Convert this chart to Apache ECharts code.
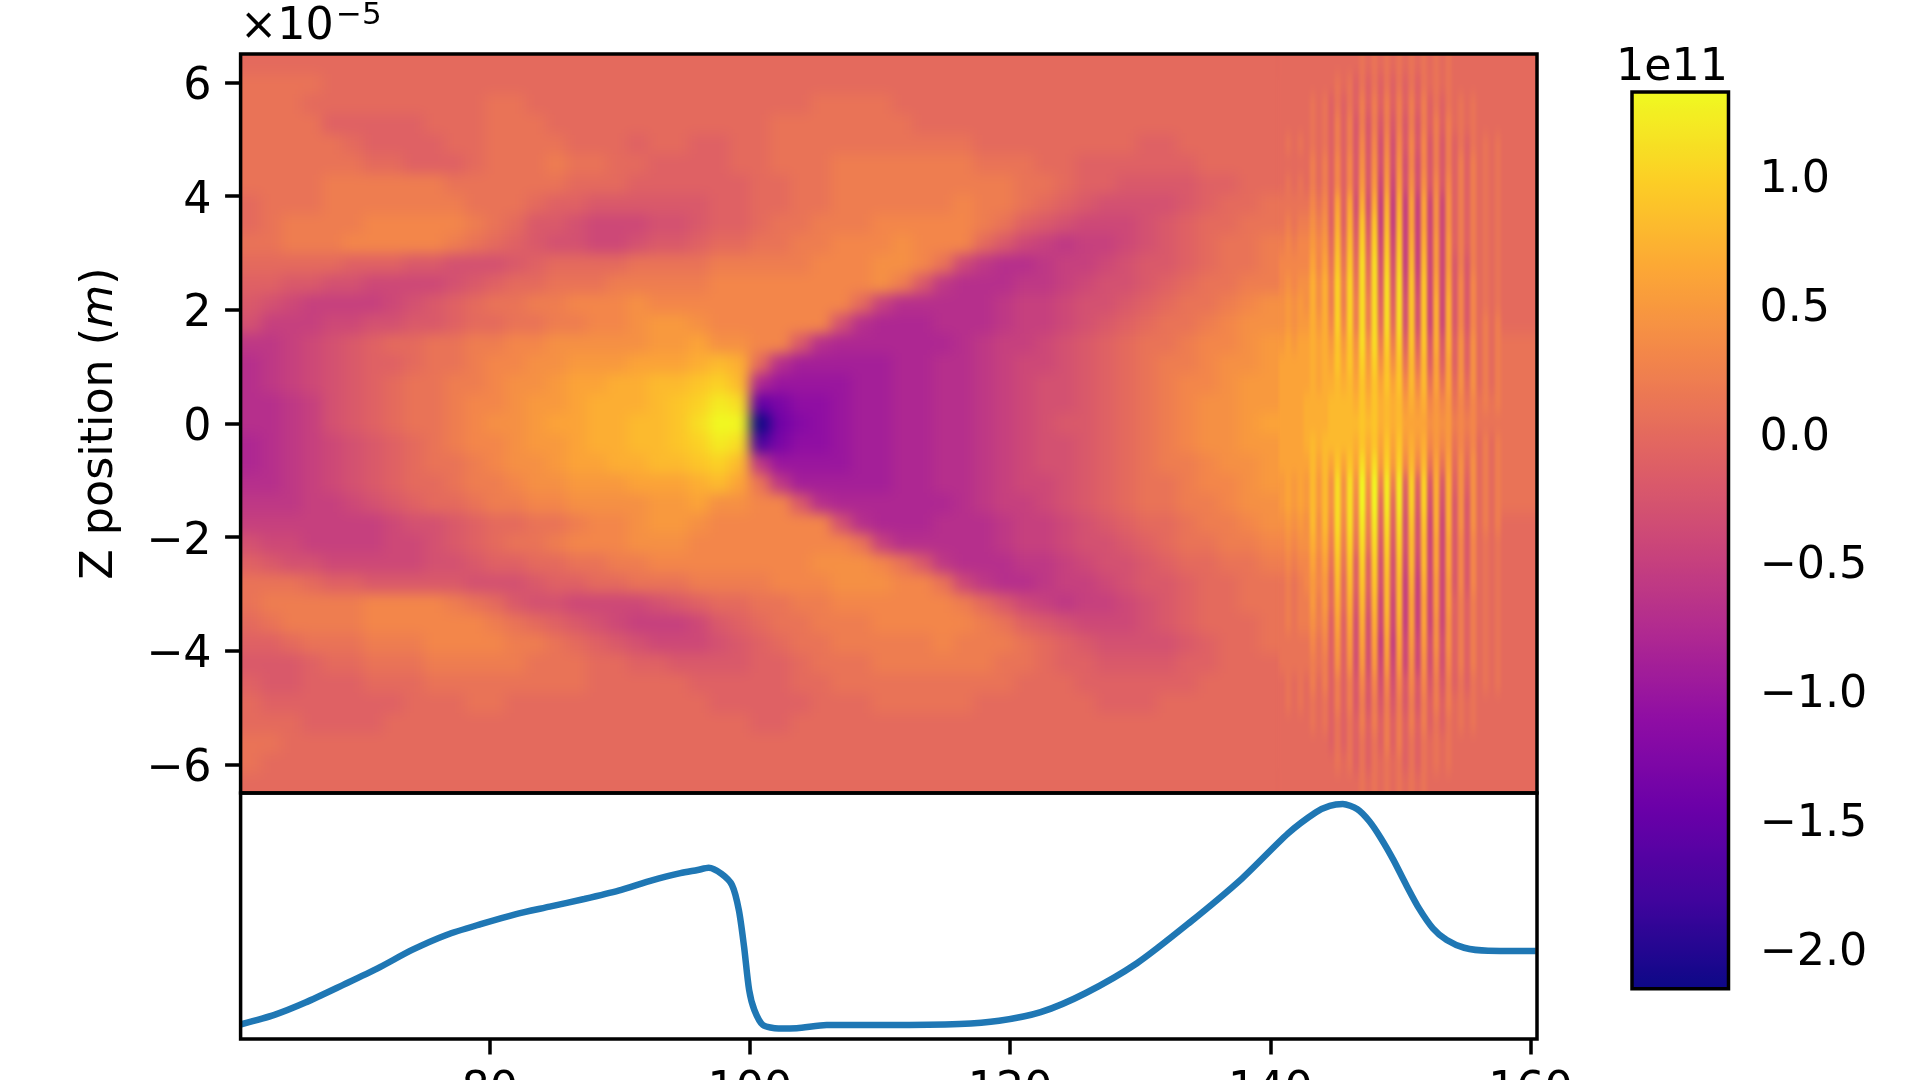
<!DOCTYPE html>
<html>
<head>
<meta charset="utf-8">
<title>wakefield</title>
<style>
  html, body { margin: 0; padding: 0; background: #fff; }
  #chart { width: 1920px; height: 1080px; }
  /* 场图两层画布：只模糊图层，不动坐标轴和文字 */
  #chart canvas[data-zr-dom-id="zr_1"] { filter: blur(6.5px); clip-path: inset(54px 383px 287px 240.6px); }
  #chart canvas[data-zr-dom-id="zr_2"] { filter: url(#stripeBlur); clip-path: inset(54px 383px 287px 240.6px); }
</style>
<script src="https://cdn.jsdelivr.net/npm/echarts@6/dist/echarts.min.js"></script>
</head>
<body>
<svg width="0" height="0" style="position:absolute">
  <filter id="stripeBlur" x="0" y="0" width="100%" height="100%" color-interpolation-filters="sRGB">
    <feGaussianBlur stdDeviation="1.6 7"></feGaussianBlur>
  </filter>
</svg>
<div id="chart"></div>
<script>
// tick labels
var zTicks = [-6, -4, -2, 0, 2, 4, 6];
var xTicks = [80, 100, 120, 140, 160];
var barTicks = [-2, -1.5, -1, -0.5, 0, 0.5, 1];

// plasma colormap stops
var plasma = ['#0d0887', '#41049d', '#6a00a8', '#8f0da4', '#b12a90', '#cc4778', '#e16462', '#f2844b', '#fca636', '#fcce25', '#f0f921'];

// field in units of 1e10, top row first (wide cells left of the stripes)
var fieldRows = [
  [0,0,0,0,0,0,0,0,0,0, 0,0,0,0,0,0,0,0,0,0, 0,0,0,0,0,0,0,0,0,0, 0,0,0,0,0,0,0,0,0,0, 0,0,0,0,0,0,0,0,0,0,0],
  [1,1,1,1,0,0,0,0,0,0, 0,0,0,0,0,0,0,0,0,0, 0,0,0,0,0,0,0,0,0,0, 0,0,0,0,0,0,0,0,0,0, 0,0,0,0,0,0,0,0,0,0,0],
  [1,1,1,0,0,0,0,0,0,0, 0,0,1,1,0,0,0,0,0,0, 0,0,0,0,0,0,0,0,1,1, 1,1,0,0,0,0,0,0,0,0, 0,0,0,0,0,0,0,0,0,0,0],
  [1,1,1,1,-1,-1,-1,-1,-1,0, 0,0,1,1,1,0,0,0,0,0, 0,0,0,0,0,0,1,1,1,1, 1,1,1,0,0,0,0,0,0,0, 0,0,0,0,0,0,0,0,0,0,0],
  [1,1,1,1,1,0,-1,-1,-1,-1, 0,0,1,1,1,1,0,0,0,-1, 0,0,-1,-1,0,0,1,1,1,1, 1,1,1,1,1,1,0,0,0,0, 0,0,0,0,-1,-1,0,0,0,0,0],
  [1,1,1,1,1,1,0,0,-1,-1, -1,0,1,1,1,2,1,1,0,0, -1,-1,-1,-1,0,0,1,1,1,2, 2,2,2,2,2,2,1,1,1,0, 0,-1,-1,-1,-1,-1,-1,0,0,0,0],
  [1,1,1,1,2,2,2,2,2,2, 1,1,1,1,1,1,0,0,0,-1, -1,-1,-1,-1,-1,0,0,1,1,2, 2,2,2,2,2,2,2,2,1,1, 0,-1,-1,-2,-2,-2,-2,-1,-1,0,0],
  [0,1,1,1,2,2,2,2,2,2, 2,1,1,1,0,-1,-1,-2,-2,-2, -2,-2,-2,-1,-1,0,0,1,1,2, 2,2,2,2,2,3,2,2,1,0, -1,-2,-3,-3,-3,-3,-2,-1,0,0,1],
  [0,1,2,2,2,2,3,3,3,3, 3,2,1,0,-2,-2,-3,-4,-4,-4, -3,-3,-2,-1,-1,0,1,1,2,2, 2,3,3,3,3,3,2,1,-1,-2, -3,-4,-4,-4,-3,-2,-1,0,0,1,1],
  [1,1,2,2,2,3,3,3,3,3, 2,1,0,-1,-2,-3,-3,-4,-4,-3, -2,-2,-1,0,0,1,1,2,2,3, 3,3,4,3,3,3,0,-2,-4,-5, -6,-5,-5,-4,-3,-2,-1,0,1,1,2],
  [0,0,0,0,0,-1,-1,-1,-2,-2, -3,-3,-3,-2,-1,0,0,0,0,1, 1,1,1,2,2,2,2,2,3,3, 3,4,4,3,1,-4,-6,-7,-7,-6, -5,-5,-4,-3,-2,-2,-1,0,1,1,2],
  [-1,-1,-2,-2,-3,-3,-4,-4,-4,-4, -3,-2,-1,0,0,1,1,1,2,2, 2,2,2,3,3,3,3,3,3,3, 3,4,2,-2,-6,-7,-7,-7,-6,-6, -5,-4,-3,-3,-2,-1,0,1,1,2,2],
  [-2,-3,-4,-5,-5,-5,-5,-4,-3,-2, -1,0,1,1,2,2,3,3,3,4, 3,3,3,3,3,3,3,3,3,3, 0,-5,-7,-7,-7,-7,-7,-6,-5,-5, -4,-3,-3,-2,-1,0,1,1,2,3,4],
  [-3,-5,-5,-5,-4,-4,-3,-3,-2,-2, -1,0,0,1,1,2,2,3,3,4, 5,5,4,3,3,3,3,3,3,-3, -7,-8,-8,-8,-7,-7,-7,-6,-5,-5, -4,-3,-2,-1,0,1,1,2,3,4,4],
  [-6,-6,-5,-4,-3,-2,-1,0,0,1, 1,2,2,3,3,4,4,4,4,4, 5,5,6,4,4,3,3,-2,-7,-8, -8,-8,-8,-8,-8,-7,-6,-5,-5,-4, -3,-2,-1,0,1,1,2,3,3,4,5],
  [-7,-6,-5,-4,-3,-2,-1,-1,0,1, 1,2,3,3,4,4,5,5,5,6, 6,6,7,8,7,0,-7,-9,-9,-9, -9,-9,-8,-8,-7,-7,-6,-5,-4,-4, -3,-2,-1,0,1,2,2,3,4,4,5],
  [-7,-6,-5,-4,-3,-2,-1,0,1,1, 2,2,3,4,4,5,6,6,7,7, 8,8,9,10,8,-8,-10,-10,-10,-10, -9,-9,-8,-8,-7,-7,-6,-5,-4,-3, -3,-2,-1,0,1,2,3,3,4,5,5],
  [-7,-7,-6,-5,-3,-2,-1,0,1,1, 2,3,3,4,5,5,6,7,7,7, 8,9,10,12,11,-15,-13,-11,-11,-10, -9,-9,-8,-8,-7,-7,-6,-5,-4,-3, -3,-2,-1,0,1,2,3,4,4,5,5],
  [-7,-7,-6,-5,-3,-2,-1,0,1,1, 2,3,4,4,5,6,6,7,7,8, 8,9,11,14,13,-22,-14,-12,-11,-10, -9,-9,-8,-8,-7,-7,-6,-5,-4,-3, -2,-2,-1,0,1,2,3,4,4,5,6],
  [-8,-7,-6,-5,-4,-3,-2,-1,0,1, 2,3,3,4,5,5,6,7,7,8, 8,9,10,12,11,-17,-13,-11,-11,-10, -9,-9,-8,-8,-7,-7,-6,-5,-4,-3, -3,-2,-1,0,1,2,3,4,4,5,5],
  [-8,-7,-6,-5,-4,-3,-2,-1,0,1, 1,2,3,4,4,5,6,6,7,7, 8,8,9,10,8,-6,-10,-10,-10,-10, -9,-9,-8,-8,-7,-7,-6,-5,-4,-3, -3,-2,-1,0,1,2,2,3,4,4,5],
  [-7,-7,-6,-5,-4,-3,-2,-1,0,0, 1,2,2,3,4,4,5,5,5,6, 6,6,7,8,6,1,-6,-9,-9,-9, -9,-9,-8,-8,-7,-7,-6,-5,-4,-4, -3,-2,-1,0,1,1,2,3,3,4,5],
  [-6,-6,-6,-5,-5,-4,-3,-2,-1,0, 0,1,2,2,3,3,4,4,4,4, 5,5,6,4,4,3,3,-2,-7,-8, -8,-8,-8,-8,-8,-7,-6,-5,-5,-4, -3,-2,-1,0,1,1,2,2,3,4,4],
  [-5,-5,-5,-5,-5,-5,-5,-4,-3,-3, -2,-1,0,0,1,1,2,3,3,4, 5,5,4,3,3,3,3,3,3,-3, -7,-8,-8,-8,-7,-7,-7,-6,-5,-5, -4,-3,-2,-1,0,0,1,2,2,3,4],
  [-3,-4,-4,-5,-5,-5,-5,-4,-4,-3, -2,-1,0,1,1,2,3,3,3,4, 4,4,3,3,3,3,3,3,3,3, 1,-5,-7,-7,-7,-7,-7,-6,-5,-5, -4,-3,-3,-2,-1,0,1,1,2,2,3],
  [-1,-2,-3,-3,-4,-4,-4,-4,-4,-3, -3,-2,-1,-1,0,0,1,1,2,2, 3,3,3,3,3,3,3,3,4,4, 4,3,1,-2,-6,-7,-7,-7,-6,-6, -5,-4,-3,-3,-2,-1,0,0,1,1,2],
  [1,1,1,0,-1,-1,-2,-2,-2,-2, -2,-3,-3,-3,-2,-1,-1,0,0,1, 1,1,2,2,2,2,3,3,3,4, 4,4,3,3,1,-4,-6,-7,-7,-6, -5,-5,-4,-3,-2,-2,-1,0,0,1,1],
  [1,2,2,2,2,2,3,3,3,3, 2,1,0,-2,-3,-3,-4,-4,-4,-4, -3,-2,-1,0,0,1,1,2,2,3, 3,3,3,3,3,2,0,-2,-4,-5, -6,-5,-5,-4,-3,-2,-1,0,0,1,1],
  [0,1,2,2,2,2,3,3,3,3, 3,3,2,1,0,-1,-2,-3,-4,-5, -5,-5,-4,-2,-1,0,1,1,2,2, 2,3,3,3,3,3,2,1,-1,-2, -3,-4,-4,-4,-3,-2,-1,0,0,0,1],
  [-1,-1,0,1,1,1,2,2,2,3, 3,3,3,2,2,1,0,-1,-2,-3, -4,-4,-4,-3,-2,-1,0,1,1,2, 2,2,2,2,3,2,2,2,1,0, -1,-2,-3,-3,-3,-3,-2,-1,0,0,1],
  [-2,-2,-2,-1,0,0,1,1,1,2, 2,2,2,2,1,1,1,0,0,-1, -1,-2,-2,-2,-2,-1,-1,0,1,1, 1,2,2,2,2,2,2,1,1,0, -1,-1,-2,-2,-2,-2,-1,-1,0,0,0],
  [-1,-2,-2,-1,-1,-1,0,0,0,1, 1,1,1,1,1,1,1,0,0,0, 0,0,-1,-1,-1,-1,-1,0,0,1, 1,1,1,1,1,1,1,1,0,0, 0,-1,-1,-1,-1,-1,-1,0,0,0,0],
  [0,-1,-1,-1,-1,-1,-1,-1,0,0, 0,1,1,0,0,0,0,0,0,0, 0,0,0,-1,-1,-1,-1,-1,0,0, 0,1,1,1,1,1,0,0,0,0, 0,0,-1,-1,-1,0,0,0,0,0,0],
  [0,0,0,-1,-1,-1,-1,0,0,0, 0,0,0,0,0,0,0,0,0,0, 0,0,0,0,0,-1,-1,0,0,0, 0,0,0,0,0,0,0,0,0,0, 0,0,0,0,0,0,0,0,0,0,0],
  [1,1,0,0,0,0,0,0,0,0, 0,0,0,0,0,0,0,0,0,0, 0,0,0,0,0,0,0,0,0,0, 0,0,0,0,0,0,0,0,0,0, 0,0,0,0,0,0,0,0,0,0,0],
  [1,0,0,0,0,0,0,0,0,0, 0,0,0,0,0,0,0,0,0,0, 0,0,0,0,0,0,0,0,0,0, 0,0,0,0,0,0,0,0,0,0, 0,0,0,0,0,0,0,0,0,0,0],
  [0,0,0,0,0,0,0,0,0,0, 0,0,0,0,0,0,0,0,0,0, 0,0,0,0,0,0,0,0,0,0, 0,0,0,0,0,0,0,0,0,0, 0,0,0,0,0,0,0,0,0,0,0]
];

// stripe crests and troughs, nine bunches from left to right, same rows as above
var stripeCrests = [
  [0,0,0,1,1,1,1,0,0], [0,0,1,1,1,1,1,0,0], [0,1,1,2,2,2,1,1,0], [0,1,2,2,2,2,2,1,0],
  [1,1,2,3,3,3,2,1,1], [0,2,3,4,4,3,2,2,1], [1,2,3,5,5,4,3,2,1], [1,3,6,7,7,6,4,2,1],
  [2,4,7,9,8,6,4,2,1], [3,5,8,10,9,7,5,2,1], [3,6,9,11,10,8,5,2,1], [4,7,10,11,11,9,6,3,1],
  [5,7,10,11,11,9,7,3,1], [5,7,10,11,11,9,7,3,2], [6,7,9,11,10,9,7,4,2], [6,7,9,10,9,8,6,4,2],
  [6,7,8,9,9,8,6,4,2], [6,7,8,9,8,7,5,3,2], [6,7,8,9,8,6,5,3,1], [6,8,8,9,9,7,5,3,2],
  [6,8,9,11,10,8,6,4,2], [6,8,11,13,12,10,7,4,2], [6,8,11,13,12,10,7,4,2], [5,8,11,12,11,9,7,4,2],
  [4,7,10,11,10,8,6,3,1], [3,6,9,10,9,8,6,3,1], [2,5,8,9,8,7,5,3,1], [2,5,7,8,8,6,5,2,1],
  [2,4,6,7,7,6,4,2,1], [1,3,5,6,6,5,4,2,1], [1,2,4,5,5,4,3,2,1], [1,2,2,3,3,3,2,1,1],
  [1,1,2,2,2,2,2,1,0], [0,1,1,2,2,2,1,1,0], [0,0,1,1,2,1,1,0,0], [0,0,1,1,1,1,1,0,0],
  [0,0,0,1,1,1,0,0,0]
];
var stripeTroughs = [
  [0,0,0,0,0,0,0,0,0], [0,0,0,-1,-1,-1,0,0,0], [0,0,-1,-1,-1,-1,-1,0,0], [0,0,-1,-2,-2,-2,-1,0,0],
  [0,0,-1,-2,-3,-2,-2,-1,0], [0,0,-1,-2,-3,-3,-2,-1,0], [0,0,-1,-2,-4,-3,-2,-1,0], [1,1,-1,-3,-5,-5,-4,-1,0],
  [1,2,-1,-2,-5,-5,-4,-1,0], [2,3,0,-1,-4,-5,-4,-1,0], [3,3,1,0,-3,-5,-4,-2,0], [3,4,2,1,-2,-4,-4,-2,0],
  [4,4,2,2,-1,-3,-4,-2,0], [4,5,3,2,0,-3,-4,-2,0], [5,6,5,4,2,-1,-2,-1,0], [6,6,6,5,4,1,-1,-1,0],
  [6,6,7,6,6,3,1,0,0], [6,7,8,7,7,5,3,1,1], [6,7,8,8,7,6,4,2,1], [6,7,8,7,6,5,3,1,0],
  [6,6,6,6,5,3,1,0,0], [5,5,4,4,2,-1,-2,-1,0], [5,5,4,3,0,-2,-3,-2,0], [4,4,3,2,-1,-3,-4,-2,0],
  [3,4,2,1,-2,-3,-4,-2,0], [2,3,1,-1,-3,-4,-4,-2,0], [1,3,0,-1,-3,-5,-4,-2,0], [1,2,0,-2,-4,-5,-4,-1,0],
  [1,2,-1,-3,-4,-5,-4,-1,0], [1,1,-1,-3,-5,-4,-3,-1,0], [1,1,-1,-3,-4,-4,-3,-1,0], [0,0,-1,-2,-3,-2,-2,-1,0],
  [0,0,-1,-2,-2,-2,-1,0,0], [0,0,-1,-1,-1,-1,-1,0,0], [0,0,-1,-1,-1,-1,0,0,0], [0,0,0,-1,0,-1,0,0,0],
  [0,0,0,0,0,0,0,0,0]
];
// strip between the last stripe and the right edge
var edgeStrip = [0,0,0,0,0,0,0,0,0,0,0,0,0,0,1,1,1,1,1,1,1,1,1,0,0,0,0,0,0,0,0,0,0,0,0,0,0];

// lower panel curve
var lineX = [60.9,63.45,65.83,68.74,71.38,74.03,76.67,79.31,81.96,84.61,87.26,89.9,92.54,94.66,95.98,96.83,97.82,98.62,99.15,99.55,99.94,100.34,101,102.2,103.6,105.9,110.6,116.1,119.15,122.35,125.78,129.75,133.72,137.69,141.37,143.51,144.57,145.57,146.67,147.6,148.5,149.46,150.38,151.43,152.5,153.56,154.9,156.74,160.4];
var lineY = [6,9.8,14.8,22,28.7,36.2,42.3,46.7,50.7,53.8,56.9,60.3,64.6,67.4,68.7,69.6,67.1,62.6,52.4,37.5,19.9,11.8,5.7,4.3,4.4,5.7,5.7,6.1,7.4,10.9,18.6,30.8,47,64.6,83.6,92.2,94.8,95.5,93.5,88.6,81.6,72.8,63.3,53.1,45,40.2,37.1,35.9,35.8];

var xMin = 60.85, xMax = 160.5, zMax = 6.5;
var barMin = -2.158, barMax = 1.325;
var FONT = 'DejaVu Sans', FS = 44.4;
var TOP_LAYER = 3;

// 建立单元格 [x0, x1, z0, z1, value]，边缘单元格伸出坐标范围，模糊时不露白
var wideCells = [], stripeCells = [];
var zStep = 2 * zMax / fieldRows.length;
var wideStep = 1.5649, thinStep = 0.4743, stripeStart = 140.66, bleed = 3;
fieldRows.forEach(function (row, r) {
  var zTop = zMax - r * zStep + (r === 0 ? bleed : 0);
  var zBot = zMax - (r + 1) * zStep - (r === fieldRows.length - 1 ? bleed : 0);
  row.forEach(function (v, c) {
    var x0 = xMin + c * wideStep - (c === 0 ? bleed : 0);
    var x1 = xMin + (c + 1) * wideStep + (c === row.length - 1 ? bleed : 0);
    wideCells.push([x0, x1, zBot, zTop, v]);
  });
  for (var k = 0; k < 36; k++) {
    var bunch = Math.floor(k / 4);
    var v = k % 2 ? stripeCrests[r][bunch] : stripeTroughs[r][bunch];
    stripeCells.push([stripeStart + k * thinStep, stripeStart + (k + 1) * thinStep, zBot, zTop, v]);
  }
  stripeCells.push([stripeStart + 36 * thinStep, xMax + bleed, zBot, zTop, edgeStrip[r]]);
});

function renderCell(params, api) {
  var a = api.coord([api.value(0), api.value(3)]);
  var b = api.coord([api.value(1), api.value(2)]);
  return {
    type: 'rect',
    shape: { x: a[0], y: a[1], width: b[0] - a[0] + 1, height: b[1] - a[1] + 1 },
    style: { fill: api.visual('color') }
  };
}

var myChart = echarts.init(document.getElementById('chart'));

var tickStyle = { show: true, length: 15.5, lineStyle: { color: '#000', width: 3.5 } };
var labelStyle = { fontFamily: FONT, fontSize: FS, color: '#000' };
var titleFont = { fontFamily: FONT, fontSize: FS, fontWeight: 'normal', color: '#000' };

// 竖轴刻度文字比居中略低，用 rich 的 padding 下移
var loweredLabel = {
  rich: { a: { fontFamily: FONT, fontSize: FS, color: '#000', padding: [10, 0, 0, 0] } }
};

function minusSign(text) {
  return '{a|' + String(text).replace('-', '\u2212') + '}';
}

var frame = {
  show: true, zlevel: TOP_LAYER, z: 5, outerBoundsMode: 'none',
  backgroundColor: 'transparent', borderColor: '#000', borderWidth: 3.5
};

var option = {
  animation: false,
  backgroundColor: '#fff',
  title: [
    { text: '\u00d710', left: 240, top: 5, padding: 0, zlevel: TOP_LAYER, textStyle: titleFont },
    { text: '\u22125', left: 336, top: 0, padding: 0, zlevel: TOP_LAYER, textStyle: Object.assign({}, titleFont, { fontSize: 31 }) },
    { text: '1e11', left: 1616, top: 46, padding: 0, zlevel: TOP_LAYER, textStyle: titleFont }
  ],
  grid: [
    Object.assign({ left: 240.6, top: 54, width: 1296.4, height: 739 }, frame),
    Object.assign({ left: 240.6, top: 793, width: 1296.4, height: 246 }, frame),
    Object.assign({ left: 1632, top: 92, width: 96.5, height: 896.7 }, frame)
  ],
  xAxis: [
    { type: 'value', gridIndex: 0, min: xMin, max: xMax, show: false },
    {
      type: 'value', gridIndex: 1, min: xMin, max: xMax, zlevel: TOP_LAYER,
      axisLine: { show: false },
      splitLine: { show: false },
      axisTick: Object.assign({ customValues: xTicks }, tickStyle),
      axisLabel: Object.assign({ customValues: xTicks, margin: 30 }, labelStyle)
    },
    { type: 'value', gridIndex: 2, min: 0, max: 1, show: false }
  ],
  yAxis: [
    {
      type: 'value', gridIndex: 0, min: -zMax, max: zMax, zlevel: TOP_LAYER,
      name: '{n|Z position (}{i|m}{n|)}',
      nameLocation: 'middle', nameRotate: 90, nameGap: 118,
      nameTextStyle: {
        rich: {
          n: { fontFamily: FONT, fontSize: FS, color: '#000' },
          i: { fontFamily: FONT, fontSize: FS, fontStyle: 'italic', color: '#000' }
        }
      },
      axisLine: { show: false },
      splitLine: { show: false },
      axisTick: Object.assign({ customValues: zTicks }, tickStyle),
      axisLabel: Object.assign({ customValues: zTicks, margin: 29, formatter: minusSign }, loweredLabel)
    },
    { type: 'value', gridIndex: 1, min: 0, max: 100, show: false },
    {
      type: 'value', gridIndex: 2, position: 'right', min: barMin, max: barMax, zlevel: TOP_LAYER,
      axisLine: { show: false },
      splitLine: { show: false },
      axisTick: Object.assign({ customValues: barTicks }, tickStyle),
      axisLabel: Object.assign({
        customValues: barTicks, margin: 31,
        formatter: function (v) { return minusSign(v.toFixed(1)); }
      }, loweredLabel)
    }
  ],
  visualMap: {
    type: 'continuous',
    seriesIndex: [0, 1],
    dimension: 4,
    min: barMin * 10,
    max: barMax * 10,
    left: 1632,
    top: 92,
    padding: 0,
    itemWidth: 96.5,
    itemHeight: 896.7,
    calculable: false,
    hoverLink: false,
    text: null,
    zlevel: TOP_LAYER,
    z: 4,
    inRange: { color: plasma }
  },
  series: [
    {
      type: 'custom', xAxisIndex: 0, yAxisIndex: 0, zlevel: 1,
      silent: true, clip: false,
      encode: { x: [0, 1], y: [2, 3] },
      data: wideCells,
      renderItem: renderCell
    },
    {
      type: 'custom', xAxisIndex: 0, yAxisIndex: 0, zlevel: 2,
      silent: true, clip: false,
      encode: { x: [0, 1], y: [2, 3] },
      data: stripeCells,
      renderItem: renderCell
    },
    {
      type: 'line', xAxisIndex: 1, yAxisIndex: 1, zlevel: TOP_LAYER,
      silent: true,
      showSymbol: false,
      smooth: 0.25,
      lineStyle: { color: '#1f77b4', width: 6.5 },
      data: lineX.map(function (x, i) { return [x, lineY[i]]; })
    }
  ]
};

myChart.setOption(option);

window.addEventListener('resize', function () {
  myChart.resize();
});
</script>
</body>
</html>
